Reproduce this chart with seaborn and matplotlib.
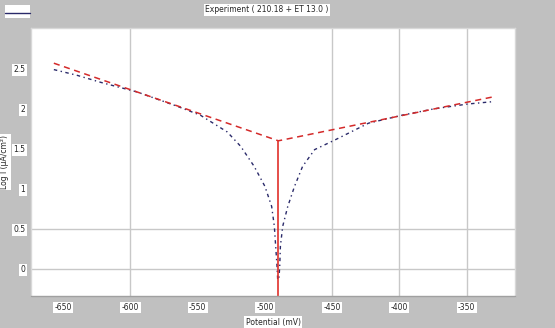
import matplotlib
matplotlib.use("Agg")
import matplotlib.pyplot as plt
import seaborn as sns
import pandas as pd
from matplotlib.lines import Line2D
from matplotlib.patches import Rectangle

# ---- data ----
blue_x = [-657, -640, -622, -595, -565, -548, -528, -518, -508, -500, -495, -493,
          -492, -491, -490.5, -489.5, -489, -488.5, -486.8, -483, -478, -472, -463,
          -448, -423, -398, -374, -349, -330]
blue_y = [2.49, 2.42, 2.33, 2.21, 2.03, 1.92, 1.71, 1.53, 1.28, 1.03, 0.78, 0.53,
          0.28, 0.03, -0.14, -0.10, 0.03, 0.28, 0.53, 0.78, 1.03, 1.28, 1.49,
          1.61, 1.82, 1.92, 2.00, 2.06, 2.09]
tafel_x = [-657, -490, -330]
tafel_y = [2.57, 1.60, 2.15]
ecorr = -490
x_ticks = [-650, -600, -550, -500, -450, -400, -350]
x_tick_labels = ["-650", "-600", "-550", "-500", "-450", "-400", "-350"]
y_ticks = [0, 0.5, 1, 1.5, 2, 2.5]
y_tick_labels = ["0", "0.5", "1", "1.5", "2", "2.5"]
x_grid = [-600, -450, -400, -350]
y_grid = [0, 0.5]
title = "Experiment ( 210.18 + ET 13.0 )"
x_label = "Potential (mV)"
y_label = "Log I (µA/cm²)"

sns.set_style("white")
plt.rcParams["font.family"] = ["DejaVu Sans"]

fig = plt.figure(figsize=(5.55, 3.28), dpi=100, facecolor="#c0c0c0")
ax = fig.add_axes([31 / 555, 32 / 328, 484 / 555, 268 / 328])
ax.set_facecolor("white")

for gx in x_grid:
    ax.axvline(gx, color="#c8c8c8", lw=1, zorder=0)
for gy in y_grid:
    ax.axhline(gy, color="#c8c8c8", lw=1, zorder=0)

df_b = pd.DataFrame({"x": blue_x, "y": blue_y})
sns.lineplot(data=df_b, x="x", y="y", ax=ax, sort=False, color="#2a2a6a",
             lw=1.0, linestyle=(0, (2.5, 2.5, 1, 2.5)))
df_t = pd.DataFrame({"x": tafel_x, "y": tafel_y})
sns.lineplot(data=df_t, x="x", y="y", ax=ax, sort=False, color="#d42a2a",
             lw=1.1, linestyle=(0, (4, 3)))
ax.plot([ecorr, ecorr], [tafel_y[1], -1], color="#e0302a", lw=1.2)

ax.set_xlim(-674, -314)
ax.set_ylim(-0.34, 3.01)
ax.set_xticks(x_ticks)
ax.set_xticklabels(x_tick_labels)
ax.set_yticks(y_ticks)
ax.set_yticklabels(y_tick_labels)
ax.tick_params(axis="x", length=0, labelsize=5.5, pad=5)
ax.tick_params(axis="y", length=0, labelsize=5.5, pad=4)
for lab in ax.get_xticklabels() + ax.get_yticklabels():
    lab.set_bbox(dict(facecolor="white", edgecolor="none", pad=1))
ax.set_xlabel(x_label, fontsize=5.5, labelpad=4,
              bbox=dict(facecolor="white", edgecolor="none", pad=1))
ax.set_ylabel(y_label, fontsize=5.5, labelpad=3,
              bbox=dict(facecolor="white", edgecolor="none", pad=1))
for s in ax.spines.values():
    s.set_color("#d8d8d8")
    s.set_linewidth(1)
ax.spines["bottom"].set_color("#a0a0a0")

fig.text(267 / 555, 1 - 10 / 328, title, ha="center", va="center", fontsize=5.5,
         bbox=dict(facecolor="white", edgecolor="none", pad=1))
fig.add_artist(Rectangle((5 / 555, 1 - 18 / 328), 25 / 555, 13 / 328,
                         transform=fig.transFigure, facecolor="white", edgecolor="none"))
fig.add_artist(Line2D([5 / 555, 30 / 555], [1 - 13 / 328, 1 - 13 / 328],
                      transform=fig.transFigure, color="#2a2a6a", lw=1))

fig.savefig("out.png", dpi=100, facecolor=fig.get_facecolor())
